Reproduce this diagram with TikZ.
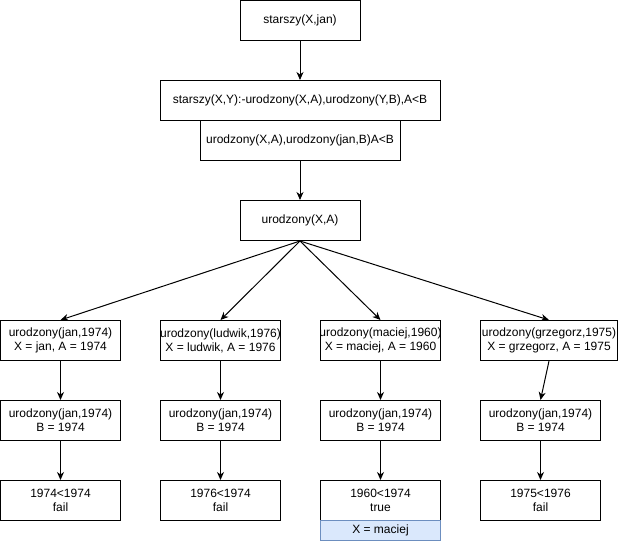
\documentclass[tikz,border=0pt]{standalone}
\usepackage{fontspec}
\setmainfont{Liberation Sans}
\usetikzlibrary{arrows.meta}
\definecolor{ansfill}{HTML}{DAE8FC}
\definecolor{ansline}{HTML}{6C8EBF}
% lets a line run past the frame, centred on it
\newcommand{\overrun}[1]{\makebox[110pt][c]{#1}}
\begin{document}
\begin{tikzpicture}[x=1pt,y=-1pt,
  box/.style={draw, line width=1pt, minimum width=120pt, minimum height=40pt,
    inner sep=0pt, align=center, font=\fontsize{12}{14}\selectfont},
  answer/.style={box, minimum height=20pt, fill=ansfill, draw=ansline},
  arr/.style={-{Stealth[length=8pt,width=7pt,inset=2.5pt]}, line width=1pt}]
\useasboundingbox (0,0) rectangle (621,541);

% query and clause
\node[box] (goal) at (300,20.5) {starszy(X,jan)};
\node[box, minimum width=280pt] (clause) at (300,100.5)
  {starszy(X,Y):-urodzony(X,A),urodzony(Y,B),A<B};
\node[box, minimum width=200pt] (body) at (300,140.5)
  {urodzony(X,A),urodzony(jan,B)A<B};
\node[box] (sub) at (300,220.5) {urodzony(X,A)};

% first-level alternatives
\node[box] (a1) at (60.5,340.5) {urodzony(jan,1974)\\X = jan, A = 1974};
\node[box] (b1) at (220.5,340.5) {\overrun{urodzony(ludwik,1976)}\\X = ludwik, A = 1976};
\node[box] (c1) at (380.5,340.5) {\overrun{urodzony(maciej,1960)}\\X = maciej, A = 1960};
\node[box, minimum width=137pt] (d1) at (549,340.5) {urodzony(grzegorz,1975)\\X = grzegorz, A = 1975};

% second goal
\node[box] (a2) at (60.5,420.5) {urodzony(jan,1974)\\B = 1974};
\node[box] (b2) at (220.5,420.5) {urodzony(jan,1974)\\B = 1974};
\node[box] (c2) at (380.5,420.5) {urodzony(jan,1974)\\B = 1974};
\node[box] (d2) at (540.5,420.5) {urodzony(jan,1974)\\B = 1974};

% comparisons
\node[box] (a3) at (60.5,500.5) {1974<1974\\fail};
\node[box] (b3) at (220.5,500.5) {1976<1974\\fail};
\node[box] (c3) at (380.5,500.5) {1960<1974\\true};
\node[box] (d3) at (540.5,500.5) {1975<1976\\fail};
\node[answer] (res) at (380.5,530.5) {X = maciej};

% connectors
\draw[arr] (goal.south) -- (clause.north);
\draw[arr] (body.south) -- (sub.north);
\foreach \t in {a1,b1,c1,d1}
  \draw[arr] (sub.south) -- (\t.north);
\draw[arr] (a1) -- (a2);
\draw[arr] (b1) -- (b2);
\draw[arr] (c1) -- (c2);
\draw[arr] (d1.south) -- (d2.north);
\draw[arr] (a2) -- (a3);
\draw[arr] (b2) -- (b3);
\draw[arr] (c2) -- (c3);
\draw[arr] (d2) -- (d3);
\end{tikzpicture}
\end{document}
